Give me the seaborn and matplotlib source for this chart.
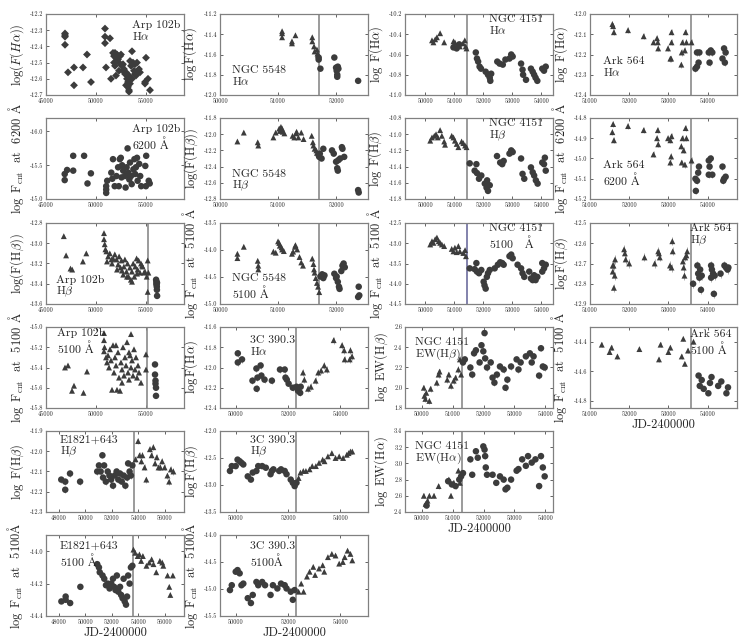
import matplotlib
matplotlib.use("Agg")
import matplotlib.pyplot as plt
import seaborn as sns
from matplotlib.ticker import FormatStrFormatter

# -----------------------------
# Data (JD-2400000, log flux)
# -----------------------------

# Arp 102b
arp_ha_jd = [46900, 46900, 46900, 46900, 47200, 47800, 47800, 48700, 49100, 49500, 50900, 50900, 50900, 51000, 51400,
             51500, 51700, 51800, 51900, 52000, 52100, 51800, 51900, 52200, 52300, 52400, 52500, 52600, 52700, 52800,
             52900, 53000, 53100, 53200, 53200, 53300, 53300, 53400, 53400, 53500, 53600, 53700, 53800, 53900, 54000,
             54100, 54200, 54300, 54400, 52000, 52300, 53000, 53600, 53900, 55000, 54900, 54900, 55200, 55400, 53300,
             52700]
arp_ha_flux = [-12.32, -12.33, -12.34, -12.39, -12.56, -12.53, -12.64, -12.53, -12.45, -12.62, -12.29, -12.34, -12.38,
               -12.53, -12.35, -12.60, -12.44, -12.46, -12.44, -12.47, -12.45, -12.50, -12.52, -12.48, -12.50, -12.46,
               -12.45, -12.52, -12.55, -12.54, -12.57, -12.56, -12.60, -12.62, -12.65, -12.67, -12.58, -12.63, -12.49,
               -12.52, -12.43, -12.50, -12.55, -12.51, -12.58, -12.50, -12.56, -12.54, -12.56, -12.58, -12.55, -12.64,
               -12.60, -12.57, -12.47, -12.62, -12.63, -12.60, -12.67, -12.68, -12.51]

arp_c62_jd = [46870, 46870, 47110, 47720, 47720, 48810, 49150, 49490, 51020, 51020, 51020, 51120, 51530, 51700, 51630,
              51870, 52040, 52210, 52380, 52480, 52610, 52720, 52890, 52960, 53060, 53160, 53230, 53330, 53400, 53500,
              53570, 53740, 53840, 53910, 53990, 54100, 54160, 54320, 54420, 54520, 54930, 54990, 55020, 55270, 55370,
              52280, 52550]
arp_c62_flux = [-15.37, -15.28, -15.43, -15.64, -15.42, -15.64, -15.23, -15.38, -15.09, -15.14, -15.19, -15.27, -15.39,
                -15.59, -15.30, -15.19, -15.34, -15.47, -15.59, -15.61, -15.50, -15.42, -15.34, -15.17, -15.47, -15.75,
                -15.39, -15.29, -15.54, -15.34, -15.22, -15.44, -15.59, -15.37, -15.47, -15.61, -15.27, -15.52, -15.34,
                -15.19, -15.49, -15.19, -15.64, -15.27, -15.23, -15.19, -15.32]

arp_hb_tri_jd = [46780, 47010, 47450, 47620, 48690, 49030, 50800, 50800, 50870, 50940, 51040, 51210, 51380, 51540,
                 51710, 51880, 52050, 52210, 52310, 52450, 52550, 52720, 52790, 52890, 53050, 53150, 53260, 53390,
                 53490, 53590, 53720, 53830, 53930, 54060, 54160, 54260, 54400, 54500, 54660, 54800, 54900, 55070,
                 55170, 55240, 55170, 51100, 51600, 52100, 52600, 53100, 53600, 54100, 54600]
arp_hb_tri_flux = [-12.93, -13.12, -13.25, -13.26, -13.18, -13.10, -12.90, -12.96, -13.01, -13.06, -13.08, -13.13,
                   -13.10, -13.16, -13.15, -13.11, -13.16, -13.21, -13.13, -13.24, -13.17, -13.31, -13.23, -13.16,
                   -13.28, -13.20, -13.33, -13.24, -13.36, -13.28, -13.20, -13.33, -13.23, -13.15, -13.26, -13.17,
                   -13.29, -13.20, -13.23, -13.29, -13.28, -13.33, -13.17, -13.29, -13.48, -13.18, -13.20, -13.26,
                   -13.27, -13.33, -13.38, -13.30, -13.22]
arp_hb_circ_jd = [56010, 56040, 56060, 56080, 56090, 56110, 56050, 56100]
arp_hb_circ_flux = [-13.36, -13.38, -13.41, -13.43, -13.46, -13.52, -13.40, -13.39]

arp_c51_tri_jd = [46900, 47200, 47600, 47800, 48750, 49100, 50800, 50800, 50800, 50850, 51000, 51100, 51200, 51300,
                  51400, 51500, 51600, 51700, 51800, 51900, 52000, 52100, 52200, 52300, 52400, 52500, 52600, 52700,
                  52800, 52900, 53000, 53100, 53200, 53300, 53400, 53500, 53500, 53600, 53700, 53800, 53900, 54000,
                  54100, 54200, 54300, 52000, 52600, 53300, 54500, 55000, 55000]
arp_c51_tri_flux = [-15.40, -15.38, -15.63, -15.58, -15.65, -15.44, -15.06, -15.13, -15.24, -15.20, -15.30, -15.35,
                    -15.28, -15.40, -15.22, -15.33, -15.62, -15.18, -15.45, -15.30, -15.38, -15.62, -15.25, -15.50,
                    -15.63, -15.35, -15.42, -15.20, -15.48, -15.30, -15.38, -15.15, -15.45, -15.52, -15.28, -15.07,
                    -15.40, -15.33, -15.48, -15.22, -15.42, -15.30, -15.50, -15.38, -15.45, -15.18, -15.55, -15.25,
                    -15.55, -15.27, -15.42]
arp_c51_circ_jd = [55900, 55900, 55950, 55950, 56000, 56000]
arp_c51_circ_flux = [-15.37, -15.47, -15.53, -15.56, -15.60, -15.68]

# NGC 5548
n5548_ha_tri_jd = [51070, 51070, 51070, 51240, 51240, 51300, 51590, 51590, 51620, 51630, 51670, 51680, 51690]
n5548_ha_tri_flux = [-11.37, -11.39, -11.43, -11.47, -11.49, -11.41, -11.43, -11.47, -11.52, -11.57, -11.55, -11.59,
                     -11.60]
n5548_ha_circ_jd = [51700, 51700, 51730, 51970, 52000, 52010, 52020, 52020, 52030, 52040, 52380]
n5548_ha_circ_flux = [-11.63, -11.65, -11.74, -11.63, -11.73, -11.76, -11.80, -11.82, -11.72, -11.74, -11.86]

n5548_hb_tri_jd = [50300, 50410, 50650, 50660, 50920, 50960, 51020, 51030, 51050, 51060, 51070, 51080, 51110, 51250,
                   51280, 51310, 51320, 51350, 51400, 51440, 51580, 51600, 51610, 51630, 51660, 51670]
n5548_hb_tri_flux = [-12.09, -11.98, -12.10, -12.14, -12.04, -11.98, -11.93, -11.96, -11.91, -11.95, -11.93, -11.97,
                     -11.99, -12.02, -12.04, -11.99, -11.97, -12.04, -11.98, -12.06, -12.02, -12.10, -12.14, -12.18,
                     -12.20, -12.23]
n5548_hb_circ_jd = [51700, 51710, 51720, 51750, 51780, 51930, 51960, 52000, 52030, 52020, 52040, 52070, 52100, 52110,
                    52140, 52380, 52390]
n5548_hb_circ_flux = [-12.26, -12.28, -12.24, -12.30, -12.18, -12.20, -12.24, -12.34, -12.45, -12.42, -12.32, -12.30,
                      -12.16, -12.18, -12.28, -12.69, -12.72]

n5548_c51_tri_jd = [50300, 50300, 50410, 50650, 50660, 50660, 50920, 50960, 51000, 51020, 51030, 51060, 51070, 51100,
                    51240, 51260, 51290, 51300, 51330, 51370, 51400, 51430, 51590, 51610, 51620, 51630, 51650, 51670,
                    51690, 51710]
n5548_c51_tri_flux = [-14.07, -14.15, -13.94, -14.20, -14.29, -14.36, -14.03, -14.05, -13.84, -13.87, -13.92, -13.95,
                      -13.99, -14.02, -14.07, -14.03, -13.94, -13.91, -13.99, -14.13, -14.23, -14.29, -14.16, -14.26,
                      -14.36, -14.42, -14.52, -14.61, -14.68, -14.78]
n5548_c51_circ_jd = [51730, 51760, 51780, 51800, 51970, 52000, 52010, 52030, 52050, 52060, 52090, 52110, 52130, 52150,
                     52390, 52400, 52380]
n5548_c51_circ_flux = [-14.49, -14.45, -14.52, -14.47, -14.44, -14.52, -14.49, -14.59, -14.68, -14.72, -14.39, -14.29,
                       -14.25, -14.32, -14.68, -14.84, -14.87]

# NGC 4151
n4151_ha_tri_jd = [50230, 50280, 50340, 50400, 50510, 50650, 50970, 51020, 51100, 51190, 51300, 51360, 51390, 51420]
n4151_ha_tri_flux = [-10.46, -10.48, -10.45, -10.43, -10.39, -10.48, -10.47, -10.48, -10.51, -10.52, -10.49, -10.46,
                     -10.52, -10.54]
n4151_ha_circ_jd = [50970, 51080, 51170, 51740, 51780, 51820, 51870, 51920, 52080, 52160, 52220, 52240, 52270, 52480,
                    52560, 52670, 52760, 52900, 52960, 53010, 53300, 53350, 53370, 53470, 53640, 53700, 53750, 53800,
                    53860, 54030, 54090, 54150]
n4151_ha_circ_flux = [-10.53, -10.54, -10.50, -10.58, -10.64, -10.67, -10.72, -10.74, -10.77, -10.80, -10.83, -10.86,
                      -10.79, -10.67, -10.69, -10.70, -10.65, -10.64, -10.60, -10.62, -10.69, -10.75, -10.80, -10.85,
                      -10.74, -10.77, -10.80, -10.83, -10.86, -10.74, -10.76, -10.72]

n4151_hb_tri_jd = [50170, 50230, 50310, 50370, 50430, 50510, 50570, 50650, 50680, 50910, 50970, 51020, 51080, 51140,
                   51250, 51310, 51370, 51420]
n4151_hb_tri_flux = [-11.08, -11.04, -11.02, -11.00, -11.04, -10.95, -11.02, -11.09, -11.13, -11.02, -11.04, -11.08,
                     -11.12, -11.16, -11.09, -11.11, -11.14, -11.16]
n4151_hb_circ_jd = [51530, 51700, 51760, 51780, 51850, 51930, 52050, 52110, 52130, 52160, 52220, 52470, 52580, 52650,
                    52700, 52900, 52960, 53010, 53300, 53350, 53410, 53640, 53700, 53750, 53810, 53870, 54030, 54090,
                    54150, 54120]
n4151_hb_circ_flux = [-11.36, -11.45, -11.37, -11.48, -11.55, -11.51, -11.61, -11.66, -11.57, -11.70, -11.63, -11.27,
                      -11.35, -11.37, -11.33, -11.24, -11.20, -11.22, -11.30, -11.49, -11.55, -11.41, -11.47, -11.51,
                      -11.57, -11.61, -11.35, -11.37, -11.45, -11.29]

n4151_c51_tri_jd = [50170, 50230, 50280, 50340, 50400, 50460, 50510, 50570, 50650, 50910, 50970, 51020, 51080, 51140,
                    51190, 51310, 51370, 51400]
n4151_c51_tri_flux = [-13.03, -12.95, -12.99, -12.90, -12.86, -12.95, -12.99, -13.03, -13.07, -13.14, -13.20, -13.11,
                      -13.22, -13.07, -13.20, -13.24, -13.17, -13.32]
n4151_c51_circ_jd = [51530, 51700, 51760, 51780, 51850, 51930, 52010, 52040, 52080, 52120, 52160, 52220, 52390, 52500,
                     52580, 52650, 52700, 52900, 52960, 53010, 53180, 53300, 53350, 53410, 53580, 53640, 53700, 53750,
                     53800, 53860, 54030, 54090, 54150, 54030]
n4151_c51_circ_flux = [-13.62, -13.64, -13.49, -13.70, -13.74, -13.66, -13.95, -14.04, -14.12, -13.83, -13.74, -13.66,
                       -13.62, -13.53, -13.47, -13.49, -13.53, -13.32, -13.28, -13.37, -13.53, -13.62, -13.74, -13.83,
                       -13.70, -13.87, -13.91, -13.79, -13.91, -13.83, -13.49, -13.62, -13.53, -13.70]

n4151_ewhb_tri_jd = [50060, 50080, 50110, 50140, 50240, 50280, 50480, 50540, 50570, 50820, 50870, 50940, 51030, 51090,
                     51180, 51230, 51270]
n4151_ewhb_tri = [2.00, 1.92, 1.89, 1.95, 1.87, 1.99, 2.05, 2.13, 2.16, 2.08, 2.13, 2.02, 2.07, 2.10, 2.18, 2.28, 2.13]
n4151_ewhb_circ_jd = [51330, 51390, 51570, 51630, 51690, 51750, 51870, 51930, 51990, 52030, 52050, 52110, 52230,
                      52290, 52350, 52430, 52530, 52650, 52710, 52770, 52890, 53070, 53130, 53200, 53370, 53500,
                      53560, 53620, 53800, 53860, 53920, 53980]
n4151_ewhb_circ = [2.25, 2.28, 2.20, 2.13, 2.34, 2.37, 2.25, 2.42, 2.36, 2.54, 2.29, 2.20, 2.25, 2.10, 2.05, 2.13,
                   2.21, 2.18, 2.00, 2.08, 2.21, 2.28, 2.18, 2.25, 2.31, 2.34, 2.25, 2.31, 2.12, 2.39, 2.21, 2.20]

n4151_ewha_tri_jd = [50060, 50120, 50180, 50240, 50390, 50540, 50870, 50940, 51030, 51180, 51230]
n4151_ewha_tri = [2.60, 2.50, 2.54, 2.60, 2.60, 2.72, 2.80, 2.60, 2.76, 2.91, 2.76]
n4151_ewha_circ_jd = [50150, 50850, 50970, 51090, 51210, 51270, 51330, 51570, 51630, 51750, 51810, 51990, 52030,
                      52050, 52070, 52110, 52290, 52410, 52530, 52650, 52710, 52770, 52890, 53070, 53130, 53250,
                      53370, 53440, 53560, 53680, 53800, 53860, 53920, 53980]
n4151_ewha_circ = [2.48, 2.78, 2.74, 2.72, 2.80, 2.84, 2.88, 3.05, 2.86, 3.15, 3.07, 3.21, 3.17, 3.09, 2.95, 2.86,
                   2.86, 2.76, 2.84, 2.80, 2.68, 2.70, 2.80, 2.91, 2.93, 3.05, 2.97, 3.09, 3.01, 3.05, 2.72, 3.09,
                   2.95, 2.84]

# Ark 564
ark_ha_tri_jd = [51570, 51590, 51610, 51970, 52370, 52620, 52710, 52730, 52740, 52990, 53050, 53070, 53080, 53080,
                 53330, 53340, 53360, 53420, 53440, 53460, 53590]
ark_ha_tri_flux = [-12.05, -12.06, -12.09, -12.08, -12.11, -12.14, -12.12, -12.14, -12.17, -12.17, -12.22, -12.22,
                   -12.09, -12.14, -12.25, -12.19, -12.14, -12.18, -12.09, -12.14, -12.14]
ark_ha_circ_jd = [53690, 53730, 53770, 53790, 53730, 54030, 54050, 54080, 54120, 54380, 54420, 54460, 54440]
ark_ha_circ_flux = [-12.27, -12.26, -12.24, -12.19, -12.19, -12.19, -12.24, -12.18, -12.19, -12.22, -12.17, -12.19,
                    -12.24]

ark_c62_tri_jd = [51570, 51590, 51610, 51970, 52370, 52620, 52710, 52730, 52740, 52990, 53050, 53070, 53050, 53080,
                  53330, 53340, 53360, 53390, 53420, 53440, 53460, 53590]
ark_c62_tri_flux = [-14.87, -14.83, -14.91, -14.84, -14.86, -14.98, -14.90, -14.86, -14.93, -14.90, -15.02, -14.99,
                    -14.91, -14.89, -14.94, -15.02, -14.90, -14.96, -15.03, -14.85, -14.90, -15.01]
ark_c62_circ_jd = [53690, 53730, 53780, 53760, 53700, 54030, 54050, 54030, 54080, 54120, 54380, 54420, 54460, 54400]
ark_c62_circ_flux = [-15.10, -15.11, -15.04, -15.07, -15.16, -15.01, -15.04, -15.08, -15.00, -15.08, -15.04, -15.10,
                     -15.09, -15.11]

ark_hb_tri_jd = [51580, 51600, 51580, 51630, 51610, 51640, 51870, 51890, 51910, 52000, 52390, 52650, 52740, 52760,
                 52780, 53040, 53080, 53100, 53110, 53370, 53390, 53410, 53430, 53460, 53480]
ark_hb_tri_flux = [-12.71, -12.71, -12.74, -12.76, -12.82, -12.68, -12.63, -12.65, -12.68, -12.70, -12.67, -12.70,
                   -12.64, -12.65, -12.67, -12.71, -12.72, -12.59, -12.64, -12.69, -12.72, -12.76, -12.67, -12.66,
                   -12.64]
ark_hb_circ_jd = [53630, 53740, 53760, 53790, 53810, 53830, 53850, 54090, 54110, 54140, 54090, 54160, 54180, 54330,
                  54430, 54470, 54510, 54530]
ark_hb_circ_flux = [-12.80, -12.71, -12.75, -12.77, -12.73, -12.83, -12.76, -12.71, -12.73, -12.75, -12.77, -12.85,
                    -12.76, -12.75, -12.71, -12.72, -12.73, -12.72]

ark_c51_tri_jd = [51300, 51500, 51550, 51700, 52260, 52760, 52800, 53000, 53050, 53340, 53380, 53420, 53500, 53640]
ark_c51_tri_flux = [-14.42, -14.47, -14.44, -14.50, -14.45, -14.52, -14.42, -14.47, -14.44, -14.50, -14.38, -14.55,
                    -14.46, -14.40]
ark_c51_circ_jd = [53770, 53800, 53850, 53900, 54020, 54060, 54100, 54270, 54350, 54480, 54520]
ark_c51_circ_flux = [-14.63, -14.70, -14.66, -14.72, -14.75, -14.68, -14.64, -14.70, -14.67, -14.75, -14.71]

# 3C 390.3
c390_ha_circ_jd = [50080, 50080, 50240, 50640, 50790, 50800, 50830, 50950, 50980, 51100, 51380, 51690, 51870, 51900,
                   51950, 52020, 52180, 52320, 52380, 52460, 52480]
c390_ha_circ_flux = [-11.86, -11.95, -11.92, -12.13, -12.01, -12.21, -12.10, -11.98, -12.08, -12.12, -12.13, -12.02,
                     -12.02, -12.10, -12.12, -12.16, -12.20, -12.19, -12.23, -12.25, -12.19]
c390_ha_tri_jd = [52570, 52620, 52760, 52870, 53050, 53150, 53260, 53380, 53480, 53740, 54060, 54140, 54160, 54350,
                  54380, 54440]
c390_ha_tri_flux = [-12.05, -12.12, -12.21, -12.19, -12.13, -12.05, -12.03, -11.98, -12.02, -11.73, -11.78, -11.83,
                    -11.92, -11.92, -11.83, -11.89]

c390_hb_circ_jd = [49780, 49850, 50000, 50070, 50150, 50220, 50290, 50460, 50580, 50650, 50790, 50860, 51010, 51150,
                   51330, 51380, 51440, 51660, 51730, 51870, 51940, 52100, 52180, 52250, 52320]
c390_hb_circ_flux = [-12.74, -12.65, -12.65, -12.53, -12.56, -12.59, -12.62, -12.84, -12.90, -12.77, -12.74, -12.65,
                     -12.65, -12.68, -12.80, -12.74, -12.71, -12.74, -12.71, -12.74, -12.80, -12.90, -12.96, -13.02,
                     -12.96]
c390_hb_tri_jd = [52400, 52470, 52580, 52680, 52820, 52920, 53060, 53180, 53320, 53390, 53520, 53670, 53810, 53950,
                  54100, 54240, 54310, 54380, 54450]
c390_hb_tri_flux = [-12.87, -12.77, -12.74, -12.74, -12.71, -12.65, -12.65, -12.59, -12.53, -12.56, -12.47, -12.41,
                    -12.50, -12.47, -12.50, -12.44, -12.41, -12.38, -12.38]

c390_c51_circ_jd = [49780, 49850, 50000, 50070, 50150, 50220, 50290, 50460, 50580, 50650, 50790, 50860, 51010, 51120,
                    51330, 51420, 51590, 51730, 51870, 51940, 52100, 52180, 52250]
c390_c51_circ_flux = [-15.02, -14.93, -14.68, -14.65, -14.71, -14.93, -14.90, -15.17, -15.26, -15.11, -14.87, -14.93,
                      -14.87, -14.93, -15.11, -14.93, -14.99, -14.90, -14.93, -14.99, -15.05, -15.20, -15.02]
c390_c51_tri_jd = [52400, 52500, 52590, 52720, 52820, 52960, 53030, 53180, 53320, 53380, 53520, 53670, 53810, 53950,
                   54090, 54160, 54270, 54380, 54450]
c390_c51_tri_flux = [-15.05, -14.90, -15.05, -14.77, -14.68, -14.59, -14.74, -14.62, -14.56, -14.68, -14.41, -14.35,
                     -14.38, -14.53, -14.50, -14.41, -14.29, -14.35, -14.47]

# E1821+643
e1821_hb_circ_jd = [48200, 48500, 48500, 48860, 49620, 50910, 51040, 51170, 51300, 51350, 51430, 51560, 51700, 51830,
                    51960, 52100, 52230, 52370, 52500, 52630, 52760, 52900, 53030, 53160, 53240, 53350, 53450, 53560]
e1821_hb_circ_flux = [-12.14, -12.19, -12.15, -12.11, -12.15, -12.10, -12.07, -12.10, -12.02, -12.13, -12.07, -12.15,
                      -12.10, -12.12, -12.14, -12.17, -12.12, -12.10, -12.14, -12.11, -12.15, -12.12, -12.17, -12.13,
                      -12.06, -12.10, -12.12, -12.07]
e1821_hb_tri_jd = [53800, 53990, 54100, 54240, 54320, 54480, 54610, 54880, 55010, 55140, 55270, 55400, 55530, 55670,
                   55800, 55990, 56200, 56330, 56460, 56650]
e1821_hb_tri_flux = [-12.04, -11.95, -12.02, -12.05, -12.02, -12.08, -12.14, -11.99, -12.02, -11.98, -12.06, -12.03,
                     -12.08, -12.08, -12.05, -12.08, -12.12, -12.15, -12.09, -12.10]

e1821_c51_circ_jd = [48210, 48530, 48530, 48870, 49640, 50910, 51040, 51100, 51310, 51440, 51570, 51700, 51840, 51970,
                     52100, 52180, 52290, 52390, 52500, 52630, 52710, 52820, 52900, 52980, 53080, 53160, 53240, 53350,
                     53450, 53560]
e1821_c51_circ_flux = [-14.31, -14.28, -14.30, -14.32, -14.22, -14.08, -14.10, -14.13, -14.15, -14.17, -14.21, -14.20,
                       -14.23, -14.20, -14.17, -14.22, -14.24, -14.15, -14.25, -14.22, -14.27, -14.29, -14.17, -14.31,
                       -14.33, -14.28, -14.15, -14.20, -14.10, -14.09]
e1821_c51_tri_jd = [53640, 53770, 53960, 54090, 54220, 54350, 54620, 54830, 55010, 55150, 55360, 55630, 55810, 55890,
                    56210, 56340, 56420, 56610]
e1821_c51_tri_flux = [-13.99, -14.01, -14.03, -14.02, -14.06, -14.03, -14.09, -14.07, -14.05, -14.08, -14.13, -14.06,
                      -14.07, -14.09, -14.15, -14.22, -14.27, -14.15]

# -----------------------------
# Style
# -----------------------------
sns.set_style("white")
plt.rcParams.update({
    "font.family": "serif",
    "font.serif": ["cmr10", "DejaVu Serif"],
    "mathtext.fontset": "cm",
    "axes.formatter.use_mathtext": True,
    "axes.edgecolor": "#808080",
    "axes.linewidth": 0.9,
    "xtick.direction": "in",
    "ytick.direction": "in",
    "xtick.top": True,
    "ytick.right": True,
    "xtick.bottom": True,
    "ytick.left": True,
    "xtick.major.size": 2.5,
    "ytick.major.size": 2.5,
    "xtick.major.width": 0.5,
    "ytick.major.width": 0.5,
    "xtick.labelsize": 4.5,
    "ytick.labelsize": 4.5,
    "xtick.major.pad": 2,
    "ytick.major.pad": 2,
})

MARK = "#3c3c3c"
ERR = "#a5a5a5"
VLINE = "#8a8a8a"
SIZES = {"o": 22, "^": 18, "D": 16}

fig = plt.figure(figsize=(7.47, 6.41), dpi=100)
col_left = [46, 220, 405, 590]
col_w = [138, 148, 148, 147]
row_top = [14, 118, 223, 327, 431, 535]
ax_h = 81


def add_ax(r, c):
    return fig.add_axes([col_left[c] / 747, 1 - (row_top[r] + ax_h) / 641, col_w[c] / 747, ax_h / 641])


def panel(r, c, series, xlim, xticks, ylim, yticks, ylabel, label, lxy, vline=None,
          vcolor=VLINE, err=0.01, xlabel=False):
    ax = add_ax(r, c)
    for x, y, m in series:
        ax.errorbar(x, y, yerr=err, fmt="none", ecolor=ERR, elinewidth=0.6, capsize=0, zorder=2)
        sns.scatterplot(x=x, y=y, marker=m, s=SIZES[m], color=MARK,
                        edgecolor="none", linewidth=0, ax=ax, zorder=3)
    if vline is not None:
        ax.axvline(vline, color=vcolor, lw=1.2, zorder=1)
    ax.set_xlim(*xlim)
    ax.set_xticks(xticks)
    ax.set_yticks(yticks)
    ax.set_ylim(*ylim)
    ax.xaxis.set_major_formatter(FormatStrFormatter("%d"))
    ax.yaxis.set_major_formatter(FormatStrFormatter("%.1f"))
    ax.set_ylabel(ylabel, fontsize=9, labelpad=3)
    ax.set_xlabel("JD-2400000" if xlabel else "", fontsize=9, labelpad=2)
    ax.text(lxy[0], lxy[1], label, transform=ax.transAxes, fontsize=8.5, va="top", ha="left",
            linespacing=1.0)
    return ax


AA = r"$\mathrm{\AA}$"
lbl_ha = r"$\log\ \mathrm{F(H}\alpha)$"
lbl_hb = r"$\log\ \mathrm{F(H}\beta)$"
lbl_ha2 = r"$\log\mathrm{F(H}\alpha)$"
lbl_hb2 = r"$\log\mathrm{F(H}\beta)$"


def lbl_c(wave, gap=" "):
    return r"$\log\ \mathrm{F_{cnt}}$  at  " + str(wave) + gap + AA


arp_x = ((45000, 58800), [45000, 50000, 55000])
n5548_x = ((50000, 52550), [50000, 51000, 52000])
n4151_x = ((49300, 54400), [50000, 51000, 52000, 53000, 54000])
n4151_ew_x = ((49450, 54250), [50000, 51000, 52000, 53000, 54000])
ark_x = ((51000, 54750), [51000, 52000, 53000, 54000])
c390_x = ((49400, 55050), [50000, 52000, 54000])
e1821_x = ((47050, 57450), [48000, 50000, 52000, 54000, 56000])

# Row 1
panel(0, 0, [(arp_ha_jd, arp_ha_flux, "D")], *arp_x, (-12.7, -12.2),
      [-12.7, -12.6, -12.5, -12.4, -12.3, -12.2], r"$\log(F(H\alpha))$",
      "Arp 102b\nH$\\alpha$", (0.62, 0.93))
panel(0, 1, [(n5548_ha_tri_jd, n5548_ha_tri_flux, "^"), (n5548_ha_circ_jd, n5548_ha_circ_flux, "o")],
      *n5548_x, (-12.0, -11.2), [-12.0, -11.8, -11.6, -11.4, -11.2], lbl_ha2,
      "NGC 5548\nH$\\alpha$", (0.08, 0.37), vline=51700, err=0.015)
panel(0, 2, [(n4151_ha_tri_jd, n4151_ha_tri_flux, "^"), (n4151_ha_circ_jd, n4151_ha_circ_flux, "o")],
      *n4151_x, (-11.0, -10.2), [-11.0, -10.8, -10.6, -10.4, -10.2], lbl_ha,
      "NGC 4151\nH$\\alpha$", (0.57, 0.99), vline=51450)
panel(0, 3, [(ark_ha_tri_jd, ark_ha_tri_flux, "^"), (ark_ha_circ_jd, ark_ha_circ_flux, "o")],
      *ark_x, (-12.4, -12.0), [-12.4, -12.3, -12.2, -12.1, -12.0], lbl_ha,
      "Ark 564\nH$\\alpha$", (0.09, 0.48), vline=53580, err=0.015)

# Row 2 (Arp 102b continuum axis runs downward, as in the original)
panel(1, 0, [(arp_c62_jd, arp_c62_flux, "o")], *arp_x, (-15.0, -16.2),
      [-16.0, -15.5, -15.0], lbl_c(6200),
      "Arp 102b\n6200 " + AA, (0.62, 0.93))
panel(1, 1, [(n5548_hb_tri_jd, n5548_hb_tri_flux, "^"), (n5548_hb_circ_jd, n5548_hb_circ_flux, "o")],
      *n5548_x, (-12.8, -11.8), [-12.8, -12.6, -12.4, -12.2, -12.0, -11.8], r"$\log(\mathrm{F(H}\beta))$",
      "NGC 5548\nH$\\beta$", (0.08, 0.37), vline=51700, err=0.015)
panel(1, 2, [(n4151_hb_tri_jd, n4151_hb_tri_flux, "^"), (n4151_hb_circ_jd, n4151_hb_circ_flux, "o")],
      *n4151_x, (-11.8, -10.8), [-11.8, -11.6, -11.4, -11.2, -11.0, -10.8], lbl_hb,
      "NGC 4151\nH$\\beta$", (0.57, 0.99), vline=51450)
panel(1, 3, [(ark_c62_tri_jd, ark_c62_tri_flux, "^"), (ark_c62_circ_jd, ark_c62_circ_flux, "o")],
      *ark_x, (-15.2, -14.8), [-15.2, -15.1, -15.0, -14.9, -14.8], lbl_c(6200),
      "Ark 564\n6200 " + AA, (0.09, 0.48), vline=53580, err=0.015)

# Row 3
panel(2, 0, [(arp_hb_tri_jd, arp_hb_tri_flux, "^"), (arp_hb_circ_jd, arp_hb_circ_flux, "o")],
      *arp_x, (-13.6, -12.8), [-13.6, -13.4, -13.2, -13.0, -12.8], r"$\log(\mathrm{F(H}\beta))$",
      "Arp 102b\nH$\\beta$", (0.07, 0.36), vline=55200)
panel(2, 1, [(n5548_c51_tri_jd, n5548_c51_tri_flux, "^"), (n5548_c51_circ_jd, n5548_c51_circ_flux, "o")],
      *n5548_x, (-15.0, -13.5), [-15.0, -14.5, -14.0, -13.5], lbl_c(5100),
      "NGC 5548\n5100 " + AA, (0.08, 0.38), vline=51700, err=0.02)
panel(2, 2, [(n4151_c51_tri_jd, n4151_c51_tri_flux, "^"), (n4151_c51_circ_jd, n4151_c51_circ_flux, "o")],
      *n4151_x, (-14.5, -12.5), [-14.5, -14.0, -13.5, -13.0, -12.5], lbl_c(5100),
      "NGC 4151\n5100   " + AA, (0.57, 0.99), vline=51450, vcolor="#6d6d9e", err=0.02)
panel(2, 3, [(ark_hb_tri_jd, ark_hb_tri_flux, "^"), (ark_hb_circ_jd, ark_hb_circ_flux, "o")],
      *ark_x, (-12.9, -12.5), [-12.9, -12.8, -12.7, -12.6, -12.5], lbl_hb2,
      "Ark 564\nH$\\beta$", (0.68, 0.99), vline=53580, err=0.02)

# Row 4
panel(3, 0, [(arp_c51_tri_jd, arp_c51_tri_flux, "^"), (arp_c51_circ_jd, arp_c51_circ_flux, "o")],
      *arp_x, (-15.8, -15.0), [-15.8, -15.6, -15.4, -15.2, -15.0], lbl_c(5100),
      "Arp 102b\n5100 " + AA, (0.08, 0.99), vline=55100)
panel(3, 1, [(c390_ha_circ_jd, c390_ha_circ_flux, "o"), (c390_ha_tri_jd, c390_ha_tri_flux, "^")],
      *c390_x, (-12.4, -11.6), [-12.4, -12.2, -12.0, -11.8, -11.6], lbl_ha2,
      "3C 390.3\nH$\\alpha$", (0.2, 0.9), vline=52300, err=0.035)
panel(3, 2, [(n4151_ewhb_tri_jd, n4151_ewhb_tri, "^"), (n4151_ewhb_circ_jd, n4151_ewhb_circ, "o")],
      *n4151_ew_x, (1.8, 2.6), [1.8, 2.0, 2.2, 2.4, 2.6], r"$\log\ \mathrm{EW(H}\beta)$",
      "NGC 4151\nEW(H$\\beta$)", (0.07, 0.87), vline=51300, err=0.03)
panel(3, 3, [(ark_c51_tri_jd, ark_c51_tri_flux, "^"), (ark_c51_circ_jd, ark_c51_circ_flux, "o")],
      *ark_x, (-14.85, -14.3), [-14.8, -14.6, -14.4], lbl_c(5100),
      "Ark 564\n5100 " + AA, (0.68, 0.97), vline=53580, err=0.015, xlabel=True)

# Row 5
panel(4, 0, [(e1821_hb_circ_jd, e1821_hb_circ_flux, "o"), (e1821_hb_tri_jd, e1821_hb_tri_flux, "^")],
      *e1821_x, (-12.3, -11.9), [-12.3, -12.2, -12.1, -12.0, -11.9], lbl_hb,
      "E1821+643\nH$\\beta$", (0.1, 0.95), vline=53680, err=0.015)
panel(4, 1, [(c390_hb_circ_jd, c390_hb_circ_flux, "o"), (c390_hb_tri_jd, c390_hb_tri_flux, "^")],
      *c390_x, (-13.5, -12.0), [-13.5, -13.0, -12.5, -12.0], lbl_hb2,
      "3C 390.3\nH$\\beta$", (0.2, 0.95), vline=52320, err=0.02)
panel(4, 2, [(n4151_ewha_tri_jd, n4151_ewha_tri, "^"), (n4151_ewha_circ_jd, n4151_ewha_circ, "o")],
      *n4151_ew_x, (2.4, 3.4), [2.4, 2.6, 2.8, 3.0, 3.2, 3.4], r"$\log\ \mathrm{EW(H}\alpha)$",
      "NGC 4151\nEW(H$\\alpha$)", (0.07, 0.87), vline=51300, err=0.03, xlabel=True)

# Row 6
panel(5, 0, [(e1821_c51_circ_jd, e1821_c51_circ_flux, "o"), (e1821_c51_tri_jd, e1821_c51_tri_flux, "^")],
      *e1821_x, (-14.4, -13.9), [-14.4, -14.2, -14.0], lbl_c(5100, gap=""),
      "E1821+643\n5100 " + AA, (0.1, 0.92), vline=53640, err=0.01, xlabel=True)
panel(5, 1, [(c390_c51_circ_jd, c390_c51_circ_flux, "o"), (c390_c51_tri_jd, c390_c51_tri_flux, "^")],
      *c390_x, (-15.5, -14.0), [-15.5, -15.0, -14.5, -14.0], lbl_c(5100, gap=""),
      "3C 390.3\n5100" + AA, (0.2, 0.92), vline=52320, err=0.02, xlabel=True)

fig.savefig("out.png", dpi=100)
